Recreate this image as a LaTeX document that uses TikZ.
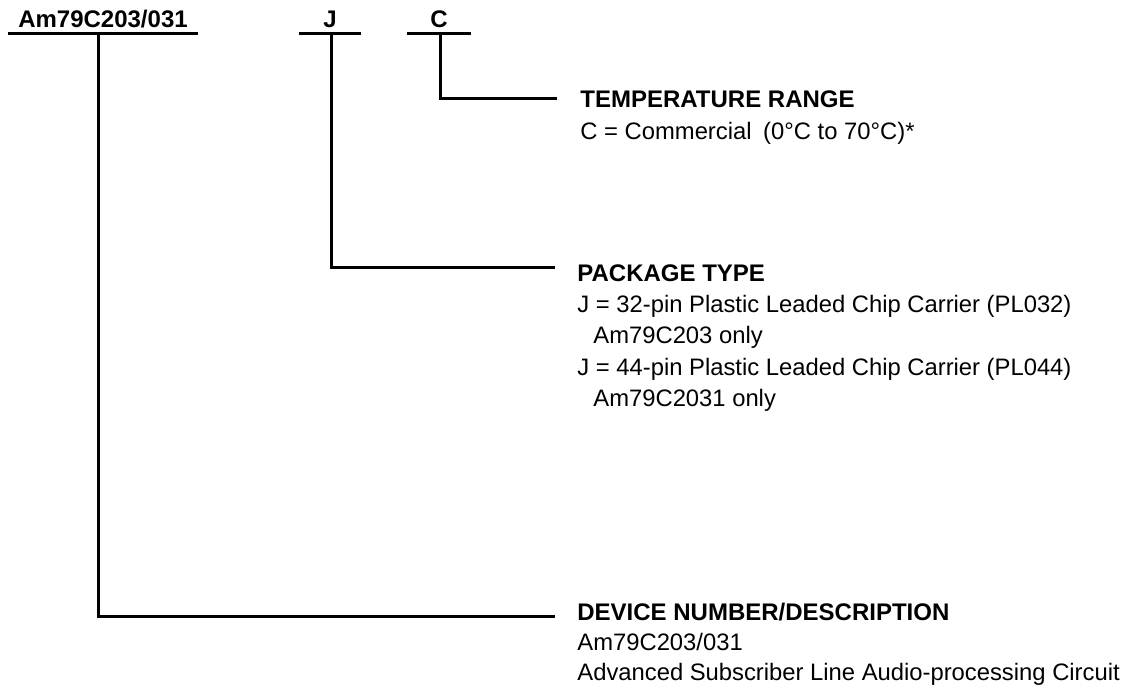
\documentclass[tikz,border=0pt]{standalone}
\usepackage{fontspec}
\setmainfont{Liberation Sans}
\begin{document}
\begin{tikzpicture}[x=0.5pt,y=-0.5pt,
  lead/.style={line width=1.5pt},
  code/.style={font=\fontsize{12}{14}\selectfont\bfseries, anchor=base, inner sep=0pt},
  head/.style={font=\fontsize{12}{14}\selectfont\bfseries, anchor=base west, inner sep=0pt},
  desc/.style={font=\fontsize{11.9}{14}\selectfont, anchor=base west, inner sep=0pt}]
\useasboundingbox (0,0) rectangle (1125,692);
% ordering code fields
\node[code] (am) at (103,27) {Am79C203/031};
\node[code] (j)  at (330,27) {J};
\node[code] (c)  at (439,27) {C};
% underline and lead coordinates
\coordinate (amL) at (8,33);   \coordinate (amR) at (198,33);
\coordinate (amT) at (98,33);  \coordinate (amE) at (555,616);
\coordinate (jL) at (299,33);  \coordinate (jR) at (361,33);
\coordinate (jT) at (331,33);  \coordinate (jE) at (555,267);
\coordinate (cL) at (407,33);  \coordinate (cR) at (471,33);
\coordinate (cT) at (440,33);  \coordinate (cE) at (557,98);
\draw[lead] (amL) -- (amR);
\draw[lead] (jL) -- (jR);
\draw[lead] (cL) -- (cR);
\draw[lead] (cT) |- (cE);
\draw[lead] (jT) |- (jE);
\draw[lead] (amT) |- (amE);
% temperature range
\node[head] (th) at (580,107) {TEMPERATURE RANGE};
\node[desc] (t1) at (580,139) {C = Commercial\hspace{2.5pt} (0°C to 70°C)*};
% package type
\node[head] (ph) at (577,281) {PACKAGE TYPE};
\node[desc] (p1) at (577,312) {J = 32-pin Plastic Leaded Chip Carrier (PL032)};
\node[desc] (p2) at (593,343.5) {Am79C203 only};
\node[desc] (p3) at (577,375) {J = 44-pin Plastic Leaded Chip Carrier (PL044)};
\node[desc] (p4) at (593,406.5) {Am79C2031 only};
% device number
\node[head] (dh) at (577,620) {DEVICE NUMBER/DESCRIPTION};
\node[desc] (d1) at (577,650) {Am79C203/031};
\node[desc] (d2) at (577,680) {Advanced Subscriber Line Audio-processing Circuit};
\end{tikzpicture}
\end{document}
